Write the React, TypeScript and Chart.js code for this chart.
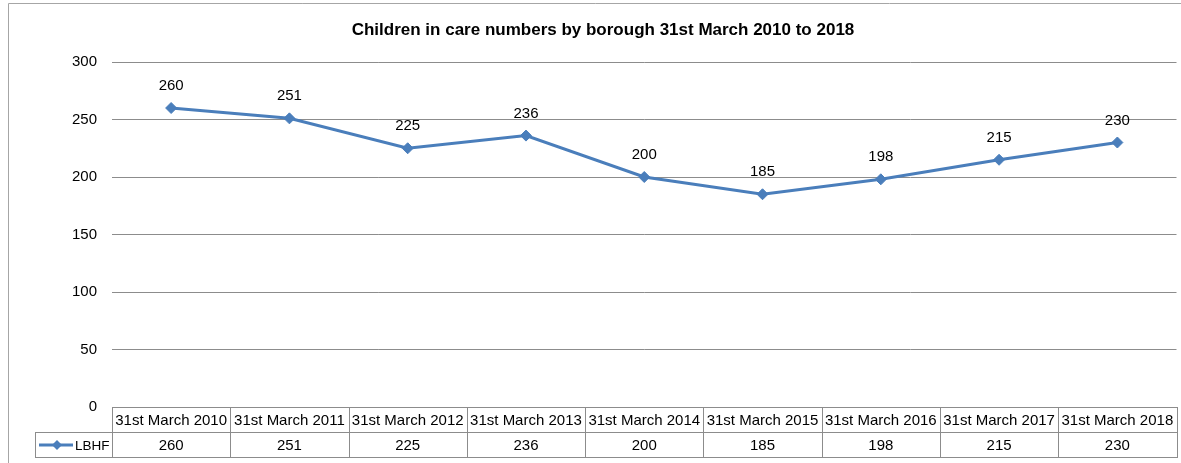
import React, { useEffect, useRef } from "react";
import { Chart, registerables } from "chart.js";

Chart.register(...registerables);

const title = "Children in care numbers by borough 31st March 2010 to 2018";
const categories = [
  "31st March 2010",
  "31st March 2011",
  "31st March 2012",
  "31st March 2013",
  "31st March 2014",
  "31st March 2015",
  "31st March 2016",
  "31st March 2017",
  "31st March 2018",
];
const seriesName = "LBHF";
const lbhf = [260, 251, 225, 236, 200, 185, 198, 215, 230];
const yMin = 0;
const yMax = 300;
const yStep = 50;

const FONT = "'Liberation Sans', Arial, sans-serif";
const LINE = "#4a7ebb";
const GRID = "#8c8c8c";
const TEXT = "#000000";
const FS = 15;

const tablePlugin = {
  id: "excelTable",
  afterDraw(chart: any) {
    const ctx = chart.ctx as CanvasRenderingContext2D;
    const xs = chart.scales.x;
    const area = chart.chartArea;
    const n = categories.length;
    const colW = (area.right - area.left) / n;
    const rowH = 25;
    const top = Math.round(area.bottom) + 0.5;
    ctx.save();
    // outer chart border
    ctx.strokeStyle = "#a6a6a6";
    ctx.lineWidth = 1;
    ctx.beginPath();
    ctx.moveTo(8.5, chart.height);
    ctx.lineTo(8.5, 3.5);
    ctx.lineTo(chart.width, 3.5);
    ctx.stroke();

    // title
    ctx.fillStyle = TEXT;
    ctx.font = `bold 17px ${FONT}`;
    ctx.textAlign = "center";
    ctx.textBaseline = "middle";
    ctx.fillText(title, 603, 30);

    ctx.strokeStyle = GRID;
    ctx.font = `${FS}px ${FONT}`;
    for (let i = 0; i < n; i++) {
      const cx = xs.getPixelForValue(i);
      const left = Math.round(cx - colW / 2) + 0.5;
      const right = Math.round(cx + colW / 2) + 0.5;
      ctx.strokeRect(left, top, right - left, rowH);
      ctx.strokeRect(left, top + rowH, right - left, rowH);
      ctx.fillText(categories[i], cx, top + rowH / 2 + 1);
      ctx.fillText(String(lbhf[i]), cx, top + rowH * 1.5 + 1);
    }
    // legend cell
    const lLeft = 35.5;
    const lRight = Math.round(area.left) + 0.5;
    ctx.strokeRect(lLeft, top + rowH, lRight - lLeft, rowH);
    const ly = top + rowH * 1.5;
    ctx.strokeStyle = LINE;
    ctx.lineWidth = 3;
    ctx.beginPath();
    ctx.moveTo(39, ly);
    ctx.lineTo(73, ly);
    ctx.stroke();
    ctx.fillStyle = LINE;
    ctx.beginPath();
    ctx.moveTo(57, ly - 5);
    ctx.lineTo(62, ly);
    ctx.lineTo(57, ly + 5);
    ctx.lineTo(52, ly);
    ctx.closePath();
    ctx.fill();
    ctx.fillStyle = TEXT;
    ctx.textAlign = "left";
    ctx.font = `13.5px ${FONT}`;
    ctx.fillText(seriesName, 75, ly + 1);
    ctx.restore();
  },
  afterDatasetsDraw(chart: any) {
    const ctx = chart.ctx as CanvasRenderingContext2D;
    const meta = chart.getDatasetMeta(0);
    ctx.save();
    ctx.fillStyle = TEXT;
    ctx.font = `${FS}px ${FONT}`;
    ctx.textAlign = "center";
    ctx.textBaseline = "middle";
    meta.data.forEach((pt: any, i: number) => {
      ctx.fillText(String(lbhf[i]), pt.x, pt.y - 22);
    });
    ctx.restore();
  },
};

export default function App() {
  const ref = useRef<HTMLCanvasElement | null>(null);
  useEffect(() => {
    if (!ref.current) return;
    const chart = new Chart(ref.current, {
      type: "line",
      data: {
        labels: categories,
        datasets: [
          {
            label: seriesName,
            data: lbhf,
            borderColor: LINE,
            backgroundColor: LINE,
            borderWidth: 3,
            pointStyle: "rectRot",
            pointRadius: 5.5,
            pointBackgroundColor: LINE,
            pointBorderColor: LINE,
            pointBorderWidth: 1,
            tension: 0,
          },
        ],
      },
      options: {
        animation: false,
        responsive: false,
        layout: { padding: { top: 62, bottom: 56, right: 0, left: 0 } },
        plugins: {
          legend: { display: false },
          title: { display: false },
          tooltip: { enabled: false },
        },
        scales: {
          x: {
            type: "category",
            display: false,
            offset: true,
          },
          y: {
            min: yMin,
            max: yMax,
            afterFit: (s: any) => {
              s.width = 112;
            },
            border: { display: false },
            grid: { color: GRID, drawTicks: false, lineWidth: 1 },
            ticks: {
              stepSize: yStep,
              padding: 15,
              color: TEXT,
              font: { family: FONT, size: FS },
            },
          },
        },
      },
      plugins: [tablePlugin],
    });
    return () => chart.destroy();
  }, []);
  return (
    <div style={{ position: "fixed", left: 0, top: 0, width: 1181, height: 463, background: "#fff", overflow: "hidden" }}>
      <canvas ref={ref} width={1183} height={463} style={{ display: "block" }} />
    </div>
  );
}
